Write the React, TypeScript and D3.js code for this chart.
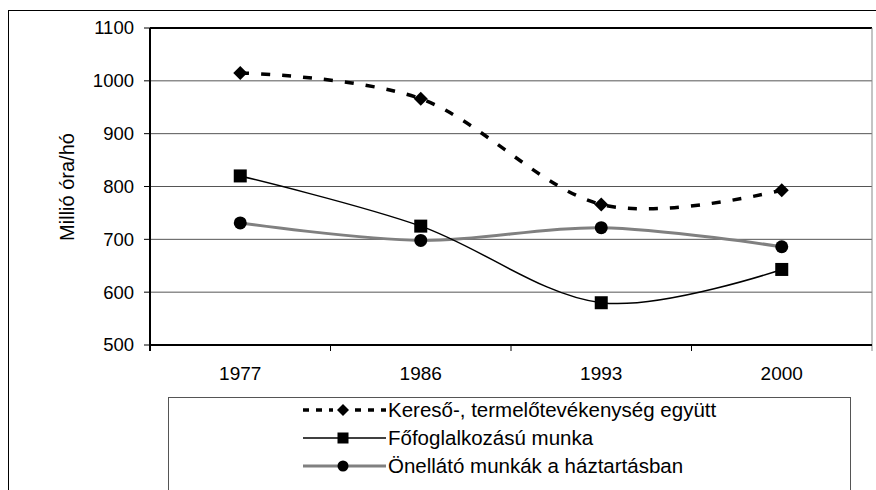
import React from "react";
import * as d3 from "d3";

const years = ["1977", "1986", "1993", "2000"];
const kereso = [1015, 966, 766, 793];
const fofog = [820, 725, 580, 643];
const onellato = [731, 698, 722, 686];
const yTicks = [500, 600, 700, 800, 900, 1000, 1100];
const seriesNames = [
  "Kereső-, termelőtevékenység együtt",
  "Főfoglalkozású munka",
  "Önellátó munkák a háztartásban",
];

const FONT = "'Liberation Sans', Arial, sans-serif";

export default function App() {
  const left = 150, right = 872, top = 28, bottom = 345;
  const x = d3.scaleBand<string>().domain(years).range([left, right]);
  const cx = (y: string) => (x(y) as number) + x.bandwidth() / 2;
  const y = d3.scaleLinear().domain([500, 1100]).range([bottom, top]);
  const line = d3
    .line<number>()
    .x((_, i) => cx(years[i]))
    .y((d) => y(d))
    .curve(d3.curveCatmullRom.alpha(0));

  const diamond = (px: number, py: number, s: number) =>
    `M${px},${py - s}L${px + s},${py}L${px},${py + s}L${px - s},${py}Z`;

  const legendX0 = 303, legendX1 = 386, legendMx = 343;
  const legendRows = [410, 438, 466];

  return (
    <svg
      width={876}
      height={490}
      style={{ position: "absolute", left: 0, top: 0, background: "#fff" }}
      fontFamily={FONT}
    >
      <rect x={0} y={0} width={876} height={490} fill="#fff" />
      {/* outer chart border */}
      <rect x={8.5} y={10.5} width={900} height={500} fill="none" stroke="#000" strokeWidth={1} />
      {/* grid lines */}
      {yTicks.map((t) => (
        <line key={t} x1={left} x2={right} y1={y(t)} y2={y(t)} stroke="#555" strokeWidth={1} />
      ))}
      {/* plot border */}
      <line x1={left} x2={right} y1={top} y2={top} stroke="#000" strokeWidth={2} />
      <line x1={right} x2={right} y1={top} y2={bottom + 6} stroke="#888" strokeWidth={1} />
      <line x1={left} x2={left} y1={top} y2={bottom + 6} stroke="#000" strokeWidth={2} />
      <line x1={left} x2={right} y1={bottom} y2={bottom} stroke="#000" strokeWidth={2} />
      {/* y ticks */}
      {yTicks.map((t) => (
        <g key={"yt" + t}>
          <line x1={left - 6} x2={left} y1={y(t)} y2={y(t)} stroke="#000" strokeWidth={1} />
          <text x={134} y={y(t)} dy="0.35em" textAnchor="end" fontSize={18.5}>
            {t}
          </text>
        </g>
      ))}
      {/* x ticks */}
      {years.map((yr, i) => (
        <g key={"xt" + yr}>
          {i > 0 && (
            <line
              x1={x(yr) as number}
              x2={x(yr) as number}
              y1={bottom}
              y2={bottom + 6}
              stroke="#000"
              strokeWidth={1}
            />
          )}
          <text x={cx(yr)} y={380} textAnchor="middle" fontSize={19}>
            {yr}
          </text>
        </g>
      ))}
      <text
        transform={`translate(74,187) rotate(-90)`}
        textAnchor="middle"
        fontSize={20}
      >
        Millió óra/hó
      </text>

      {/* lines */}
      <path d={line(onellato) || ""} fill="none" stroke="#808080" strokeWidth={3} />
      <path d={line(fofog) || ""} fill="none" stroke="#000" strokeWidth={1.5} />
      <path
        d={line(kereso) || ""}
        fill="none"
        stroke="#000"
        strokeWidth={3.5}
        strokeDasharray="9 12"
      />
      {/* markers */}
      {kereso.map((v, i) => (
        <path key={"k" + i} d={diamond(cx(years[i]), y(v), 7)} fill="#000" />
      ))}
      {fofog.map((v, i) => (
        <rect key={"f" + i} x={cx(years[i]) - 6.5} y={y(v) - 6.5} width={13} height={13} fill="#000" />
      ))}
      {onellato.map((v, i) => (
        <circle key={"o" + i} cx={cx(years[i])} cy={y(v)} r={6.5} fill="#000" />
      ))}

      {/* legend */}
      <rect x={168.5} y={397.5} width={682} height={120} fill="#fff" stroke="#555" strokeWidth={1} />
      <line
        x1={legendX0}
        x2={legendX1}
        y1={legendRows[0]}
        y2={legendRows[0]}
        stroke="#000"
        strokeWidth={3.5}
        strokeDasharray="6 7"
      />
      <rect x={legendMx - 10} y={legendRows[0] - 7} width={20} height={14} fill="#fff" />
      <path d={diamond(legendMx, legendRows[0], 6)} fill="#000" />
      <line x1={legendX0} x2={legendX1} y1={legendRows[1]} y2={legendRows[1]} stroke="#000" strokeWidth={1.5} />
      <rect x={legendMx - 5.5} y={legendRows[1] - 5.5} width={11} height={11} fill="#000" />
      <line x1={legendX0} x2={legendX1} y1={legendRows[2]} y2={legendRows[2]} stroke="#808080" strokeWidth={3} />
      <circle cx={legendMx} cy={legendRows[2]} r={5.5} fill="#000" />
      {seriesNames.map((n, i) => (
        <text key={n} x={388} y={legendRows[i]} dy="0.35em" fontSize={20.5}>
          {n}
        </text>
      ))}
    </svg>
  );
}
